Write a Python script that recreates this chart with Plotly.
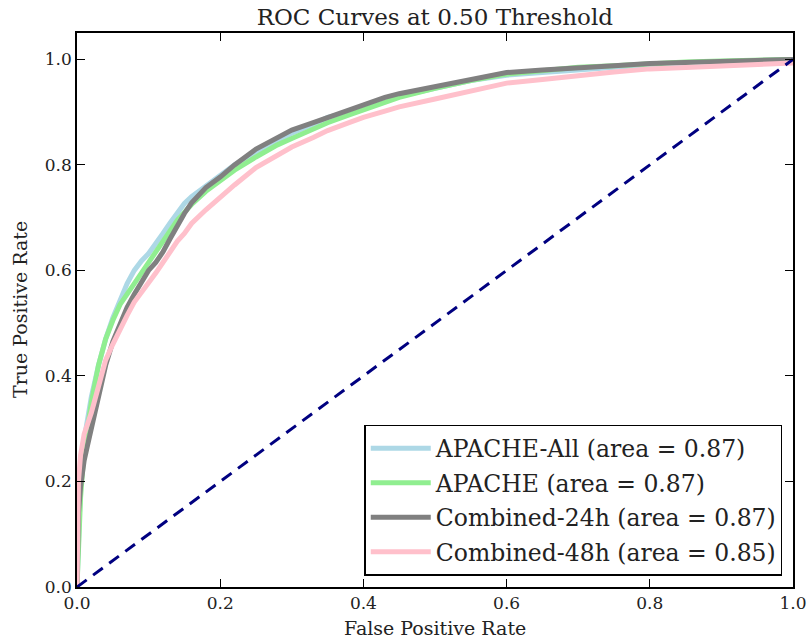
import plotly.graph_objects as go

fpr = [0, 0.002, 0.005, 0.01, 0.015, 0.02, 0.03, 0.04, 0.05, 0.06, 0.07, 0.08, 0.09, 0.10, 0.11,
       0.12, 0.13, 0.14, 0.15, 0.16, 0.18, 0.20, 0.22, 0.25, 0.28, 0.30, 0.33, 0.35, 0.38, 0.40,
       0.43, 0.45, 0.50, 0.55, 0.60, 0.65, 0.70, 0.75, 0.80, 0.85, 0.90, 0.95, 1.0]

tpr_apache_all = [0, 0.12, 0.20, 0.28, 0.32, 0.36, 0.42, 0.47, 0.51, 0.545, 0.575, 0.60, 0.618, 0.632, 0.65,
                  0.67, 0.69, 0.71, 0.727, 0.74, 0.76, 0.78, 0.80, 0.825, 0.847, 0.86, 0.877, 0.89, 0.90, 0.91,
                  0.92, 0.93, 0.945, 0.96, 0.97, 0.975, 0.98, 0.985, 0.99, 0.992, 0.995, 0.998, 1.0]
tpr_apache = [0, 0.10, 0.17, 0.26, 0.31, 0.35, 0.42, 0.47, 0.505, 0.535, 0.555, 0.575, 0.595, 0.613, 0.635,
              0.655, 0.675, 0.695, 0.71, 0.725, 0.75, 0.77, 0.79, 0.815, 0.838, 0.85, 0.868, 0.88, 0.895, 0.905,
              0.918, 0.928, 0.945, 0.96, 0.972, 0.978, 0.985, 0.988, 0.992, 0.995, 0.997, 0.999, 1.0]
tpr_comb24 = [0, 0.14, 0.19, 0.24, 0.27, 0.30, 0.36, 0.42, 0.465, 0.50, 0.53, 0.555, 0.578, 0.60, 0.615,
              0.635, 0.66, 0.685, 0.708, 0.728, 0.757, 0.777, 0.80, 0.83, 0.853, 0.866, 0.88, 0.89, 0.905, 0.915,
              0.928, 0.935, 0.948, 0.962, 0.975, 0.98, 0.985, 0.988, 0.992, 0.994, 0.997, 0.998, 1.0]
tpr_comb48 = [0, 0.20, 0.25, 0.29, 0.31, 0.33, 0.38, 0.43, 0.46, 0.49, 0.515, 0.54, 0.558, 0.575, 0.595,
              0.615, 0.635, 0.655, 0.67, 0.689, 0.715, 0.739, 0.762, 0.795, 0.82, 0.834, 0.852, 0.865, 0.88, 0.89,
              0.902, 0.91, 0.925, 0.94, 0.955, 0.962, 0.97, 0.976, 0.982, 0.985, 0.988, 0.991, 0.993]

names = ["APACHE-All (area = 0.87)", "APACHE (area = 0.87)",
         "Combined-24h (area = 0.87)", "Combined-48h (area = 0.85)"]
colors = ["lightblue", "lightgreen", "gray", "pink"]
series = [tpr_apache_all, tpr_apache, tpr_comb24, tpr_comb48]

diag = [0, 1]
ticks = [0, 0.2, 0.4, 0.6, 0.8, 1.0]
tick_text = ["0.0", "0.2", "0.4", "0.6", "0.8", "1.0"]

fig = go.Figure()
for i, (n, c, s) in enumerate(zip(names, colors, series)):
    fig.add_trace(go.Scatter(x=fpr, y=s, mode="lines", name=n, legendgroup=f"g{i}",
                             line=dict(color=c, width=5)))
fig.add_trace(go.Scatter(x=diag, y=diag, mode="lines", showlegend=False,
                         line=dict(color="navy", width=3, dash="12px,8px")))

serif = "DejaVu Serif"
axis_common = dict(showgrid=False, zeroline=False, showline=True, linecolor="black", linewidth=1.5,
                   mirror="ticks", ticks="inside", ticklen=8, tickwidth=1, tickcolor="black",
                   automargin=False,
                   tickfont=dict(family=serif, size=17, color="#222"))

fig.update_layout(
    width=809, height=641,
    margin=dict(l=77, r=16, t=33, b=54, autoexpand=False),
    paper_bgcolor="white", plot_bgcolor="white",
    title=dict(text="ROC Curves at 0.50 Threshold", x=0.5375, xanchor="center", y=0.974, yanchor="middle",
               font=dict(family=serif, size=23, color="#222")),
    xaxis=dict(range=[0, 1], tickvals=ticks, ticktext=tick_text, **axis_common),
    yaxis=dict(range=[0, 1.05], tickvals=ticks, ticktext=tick_text, **axis_common),
    legend=dict(x=0.985, y=0.02, xanchor="right", yanchor="bottom",
                bordercolor="black", borderwidth=1.5, bgcolor="white", itemwidth=60,
                font=dict(family=serif, size=23.5, color="#222"), tracegroupgap=1),
    showlegend=True,
    annotations=[
        dict(text="False Positive Rate", xref="paper", yref="paper", x=0.5, y=-0.074,
             xanchor="center", yanchor="middle", showarrow=False,
             font=dict(family=serif, size=19, color="#222")),
        dict(text="True Positive Rate", xref="paper", yref="paper", x=-0.0796, y=0.5,
             xanchor="center", yanchor="middle", showarrow=False, textangle=-90,
             font=dict(family=serif, size=19, color="#222")),
    ],
)

fig.write_html("out.html", config={"displayModeBar": False},
               post_script="document.body.style.margin='0';")
